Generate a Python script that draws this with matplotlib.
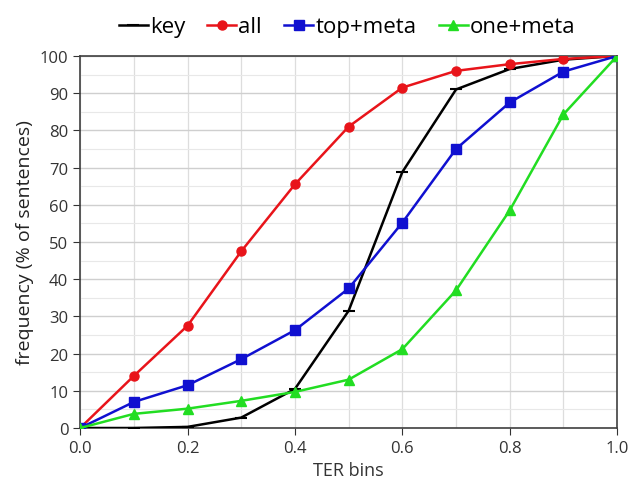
import matplotlib
matplotlib.use('Agg')
import matplotlib.pyplot as plt
import numpy as np

plt.rcParams['font.family'] = ['Open Sans', 'DejaVu Sans']

# TER bins and cumulative frequency (% of sentences)
ter_bins = [0.0, 0.1, 0.2, 0.3, 0.4, 0.5, 0.6, 0.7, 0.8, 0.9, 1.0]
key = [0, 0, 0.3, 2.8, 10.5, 31.5, 68.8, 91, 96.5, 99, 100]
all_feats = [0, 14, 27.5, 47.5, 65.5, 81, 91.5, 96, 97.8, 99.2, 100]
top_meta = [0, 7, 11.5, 18.5, 26.3, 37.5, 55.2, 75, 87.5, 95.8, 100]
one_meta = [0, 3.8, 5.2, 7.3, 9.7, 13, 21.2, 37, 58.5, 84.3, 100]

fig = plt.figure(figsize=(6.31, 5.02), dpi=100)
ax = fig.add_axes([0.127, 0.1454, 0.851, 0.7411])

ax.plot(ter_bins, key, color='black', lw=1.8, marker='_', ms=9, mew=1.5, label='key', zorder=3)
ax.plot(ter_bins, all_feats, color='#e8141a', lw=1.8, marker='o', ms=6.5, label='all', zorder=4)
ax.plot(ter_bins, top_meta, color='#1010d0', lw=1.8, marker='s', ms=6.5, label='top+meta', zorder=4)
ax.plot(ter_bins, one_meta, color='#22dd22', lw=1.8, marker='^', ms=6.5, label='one+meta', zorder=4)

ax.set_xlim(0, 1.0)
ax.set_ylim(0, 100)
ax.set_xticks(np.arange(0, 1.01, 0.2))
ax.set_xticks(np.arange(0, 1.01, 0.1), minor=True)
ax.set_yticks(np.arange(0, 101, 10))
ax.set_yticks(np.arange(0, 101, 5), minor=True)
ax.set_xticklabels(['0.0', '0.2', '0.4', '0.6', '0.8', '1.0'])
ax.grid(which='major', axis='y', color='#cfcfcf', lw=1)
ax.grid(which='minor', axis='y', color='#e8e8e8', lw=0.8)
ax.grid(which='both', axis='x', color='#dddddd', lw=0.9)
ax.set_axisbelow(True)
ax.tick_params(which='minor', length=0)
ax.tick_params(which='major', length=5, labelsize=12, colors='#333333')
for s in ax.spines.values():
    s.set_color('#404040')
    s.set_linewidth(1.2)

ax.set_xlabel('TER bins', fontsize=13, color='#333333')
ax.set_ylabel('frequency (% of sentences)', fontsize=14, color='#222222')

fig.legend(loc='upper center', bbox_to_anchor=(0.55, 1.005), ncol=4, frameon=False,
           fontsize=16, handlelength=1.3, handletextpad=0.1, columnspacing=1.0)

fig.savefig('out.png', dpi=100)
